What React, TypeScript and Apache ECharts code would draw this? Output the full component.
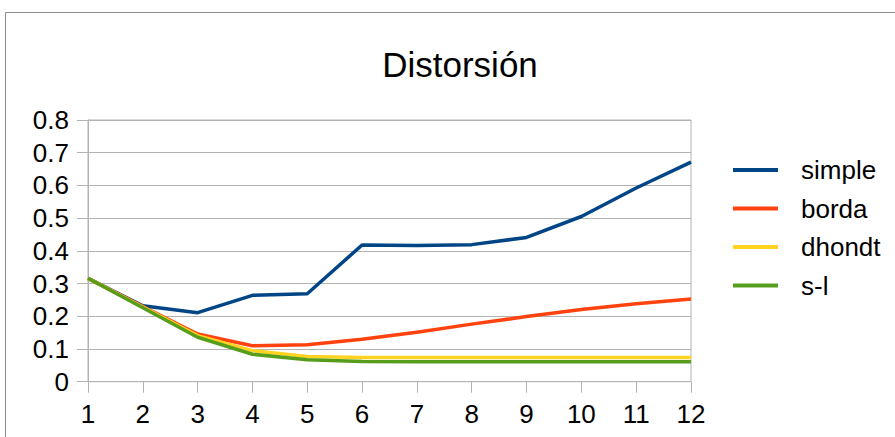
import React, { useEffect, useRef } from "react";
import * as echarts from "echarts";

const categories = ["1", "2", "3", "4", "5", "6", "7", "8", "9", "10", "11", "12"];
const yTickLabels = ["0", "0.1", "0.2", "0.3", "0.4", "0.5", "0.6", "0.7", "0.8"];
const simple = [0.316, 0.232, 0.211, 0.264, 0.269, 0.418, 0.416, 0.419, 0.441, 0.505, 0.592, 0.671];
const borda = [0.316, 0.230, 0.146, 0.110, 0.113, 0.130, 0.151, 0.176, 0.199, 0.221, 0.238, 0.253];
const dhondt = [0.316, 0.228, 0.141, 0.095, 0.077, 0.074, 0.074, 0.074, 0.074, 0.074, 0.074, 0.074];
const sl = [0.316, 0.226, 0.136, 0.084, 0.067, 0.062, 0.061, 0.061, 0.061, 0.061, 0.061, 0.061];

const FONT = "Liberation Sans";

export default function App() {
  const ref = useRef<HTMLDivElement>(null);
  useEffect(() => {
    if (!ref.current) return;
    const chart = echarts.init(ref.current, undefined, { renderer: "svg" });
    const mk = (name: string, data: number[], color: string) => ({
      name,
      type: "line",
      data,
      symbol: "none",
      color,
      lineStyle: { color, width: 3.5 },
    });
    chart.setOption({
      animation: false,
      backgroundColor: "#ffffff",
      textStyle: { fontFamily: FONT },
      title: {
        text: "Distorsión",
        left: 455,
        top: 42,
        textAlign: "center",
        textStyle: { fontFamily: FONT, fontSize: 35, fontWeight: "normal", color: "#000" },
      },
      graphic: [
        {
          type: "rect",
          shape: { x: 5.5, y: 12.5, width: 1000, height: 1000 },
          style: { fill: "none", stroke: "#8c8c8c", lineWidth: 1 },
          silent: true,
        },
      ],
      legend: {
        orient: "vertical",
        left: 728,
        top: 152,
        itemWidth: 45,
        itemHeight: 4,
        itemGap: 12.5,
        icon: "rect",
        textStyle: { fontFamily: FONT, fontSize: 26, color: "#000", lineHeight: 26, padding: [0, 0, 0, 18] },
        data: ["simple", "borda", "dhondt", "s-l"],
      },
      grid: { left: 88, right: 204, top: 120, bottom: 55.3, show: true, borderColor: "#b3b3b3", borderWidth: 1, backgroundColor: "transparent" },
      xAxis: {
        type: "category",
        data: categories,
        boundaryGap: false,
        axisLine: { show: true, lineStyle: { color: "#b3b3b3", width: 1 } },
        axisTick: { show: true, length: 11, lineStyle: { color: "#b3b3b3" } },
        axisLabel: { color: "#000", fontFamily: FONT, fontSize: 26, margin: 19 },
        splitLine: { show: false },
      },
      yAxis: {
        type: "value",
        min: 0,
        max: 0.8,
        interval: 0.1,
        axisLine: { show: true, lineStyle: { color: "#b3b3b3", width: 1 } },
        axisTick: { show: true, length: 11, lineStyle: { color: "#b3b3b3" } },
        axisLabel: {
          color: "#000",
          fontFamily: FONT,
          fontSize: 26,
          margin: 19,
          formatter: (v: number) => yTickLabels[Math.round(v * 10)] ?? String(v),
        },
        splitLine: { show: true, lineStyle: { color: "#b3b3b3", width: 1 } },
      },
      series: [
        mk("simple", simple, "#004586"),
        mk("borda", borda, "#ff420e"),
        mk("dhondt", dhondt, "#ffd320"),
        mk("s-l", sl, "#579d1c"),
      ],
    });
    return () => chart.dispose();
  }, []);
  return <div ref={ref} style={{ position: "fixed", left: 0, top: 0, width: 895, height: 437 }} />;
}
